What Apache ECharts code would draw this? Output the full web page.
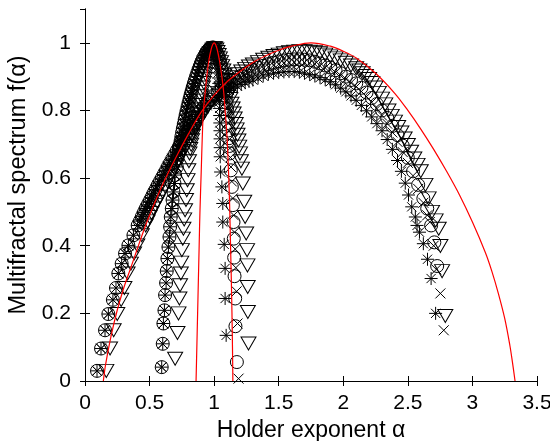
<!DOCTYPE html>
<html>
<head>
<meta charset="utf-8">
<script src="https://cdn.jsdelivr.net/npm/echarts@6.0.0/dist/echarts.min.js"></script>
<style>
  html, body { margin: 0; padding: 0; background: #fff; }
  #chart { width: 550px; height: 441px; }
</style>
</head>
<body>
<div id="chart"></div>
<script>
// Axis ranges: [min, max, step]
const xRange = [0, 3.5, 0.5];
const yRange = [0, 1.1, 0.2];

// Narrow spectra: left branch shared by the o, * and x estimates
const narrowLeft = [[0.594,0.041],[0.602,0.110],[0.607,0.170],[0.615,0.209],[0.620,0.254],[0.628,0.290],[0.633,0.325],[0.638,0.362],[0.646,0.396],[0.654,0.426],[0.659,0.456],[0.664,0.485],[0.672,0.510],[0.678,0.535],[0.685,0.559],[0.693,0.584],[0.698,0.609],[0.711,0.633],[0.716,0.658],[0.722,0.670],[0.728,0.683],[0.734,0.696],[0.740,0.709],[0.746,0.722],[0.752,0.735],[0.758,0.747],[0.765,0.760],[0.772,0.773],[0.779,0.786],[0.786,0.798],[0.794,0.811],[0.802,0.823],[0.810,0.835],[0.818,0.847],[0.826,0.858],[0.834,0.869],[0.843,0.880],[0.852,0.891],[0.861,0.901],[0.870,0.911],[0.879,0.921],[0.888,0.930],[0.897,0.939],[0.906,0.947],[0.915,0.955],[0.925,0.962],[0.935,0.969],[0.945,0.975],[0.955,0.979],[0.965,0.983],[0.975,0.985],[0.985,0.986]];
const narrowCircleRight = [[0.995,0.986],[1.003,0.983],[1.011,0.979],[1.019,0.973],[1.027,0.966],[1.035,0.958],[1.043,0.949],[1.050,0.939],[1.057,0.928],[1.064,0.916],[1.070,0.903],[1.076,0.889],[1.082,0.874],[1.087,0.858],[1.092,0.841],[1.096,0.823],[1.100,0.804],[1.104,0.784],[1.108,0.763],[1.112,0.741],[1.116,0.718],[1.119,0.695],[1.122,0.673],[1.129,0.623],[1.137,0.574],[1.145,0.520],[1.150,0.470],[1.152,0.421],[1.155,0.365],[1.158,0.310],[1.163,0.244],[1.165,0.162],[1.176,0.056]];
const narrowStarRight = [[0.992,0.986],[0.998,0.982],[1.004,0.977],[1.010,0.970],[1.015,0.961],[1.020,0.950],[1.024,0.938],[1.028,0.925],[1.031,0.911],[1.034,0.896],[1.036,0.880],[1.038,0.863],[1.040,0.845],[1.041,0.826],[1.042,0.806],[1.043,0.785],[1.044,0.763],[1.045,0.740],[1.046,0.716],[1.047,0.690],[1.047,0.663],[1.050,0.618],[1.060,0.574],[1.067,0.525],[1.067,0.470],[1.078,0.404],[1.085,0.333],[1.085,0.244],[1.093,0.135]];
const narrowCrossRight = [[0.997,0.986],[1.006,0.982],[1.015,0.977],[1.024,0.970],[1.033,0.962],[1.042,0.952],[1.050,0.941],[1.058,0.928],[1.065,0.914],[1.072,0.899],[1.078,0.883],[1.084,0.866],[1.090,0.848],[1.095,0.829],[1.100,0.808],[1.105,0.786],[1.110,0.763],[1.114,0.739],[1.118,0.714],[1.122,0.688],[1.126,0.661],[1.130,0.633],[1.137,0.590],[1.145,0.540],[1.152,0.490],[1.158,0.440],[1.163,0.390],[1.168,0.335],[1.174,0.265],[1.181,0.170],[1.189,0.007]];
const narrowTriangle = [[0.698,0.066],[0.716,0.142],[0.724,0.200],[0.731,0.244],[0.736,0.283],[0.742,0.318],[0.745,0.350],[0.750,0.387],[0.757,0.421],[0.762,0.450],[0.768,0.478],[0.775,0.505],[0.782,0.535],[0.788,0.564],[0.794,0.594],[0.800,0.623],[0.805,0.650],[0.809,0.673],[0.815,0.686],[0.822,0.699],[0.829,0.712],[0.836,0.725],[0.843,0.738],[0.850,0.751],[0.857,0.764],[0.864,0.777],[0.871,0.790],[0.878,0.803],[0.885,0.816],[0.892,0.829],[0.899,0.842],[0.906,0.855],[0.913,0.868],[0.920,0.881],[0.927,0.894],[0.934,0.907],[0.941,0.920],[0.949,0.933],[0.957,0.945],[0.965,0.956],[0.973,0.966],[0.981,0.974],[0.990,0.980],[0.999,0.984],[1.008,0.984],[1.017,0.980],[1.026,0.973],[1.035,0.964],[1.044,0.954],[1.053,0.943],[1.062,0.931],[1.071,0.918],[1.080,0.904],[1.089,0.890],[1.098,0.876],[1.107,0.862],[1.116,0.848],[1.125,0.834],[1.134,0.820],[1.143,0.806],[1.151,0.791],[1.159,0.776],[1.167,0.760],[1.174,0.744],[1.181,0.728],[1.188,0.711],[1.194,0.693],[1.200,0.673],[1.207,0.650],[1.215,0.628],[1.222,0.584],[1.233,0.530],[1.240,0.485],[1.248,0.436],[1.255,0.387],[1.258,0.342],[1.260,0.278],[1.261,0.204],[1.266,0.111]];

// Wide spectra: left branch shared by the o, * and x estimates
const wideLeft = [[0.093,0.030],[0.124,0.096],[0.155,0.150],[0.181,0.198],[0.216,0.240],[0.240,0.275],[0.258,0.318],[0.284,0.347],[0.310,0.377],[0.336,0.401],[0.375,0.431],[0.408,0.460],[0.425,0.473],[0.440,0.486],[0.455,0.498],[0.470,0.510],[0.485,0.521],[0.500,0.532],[0.515,0.543],[0.530,0.555],[0.546,0.566],[0.562,0.578],[0.578,0.589],[0.594,0.600],[0.610,0.611],[0.626,0.622],[0.642,0.634],[0.658,0.645],[0.675,0.657],[0.692,0.668],[0.709,0.680],[0.726,0.692],[0.744,0.704],[0.762,0.716],[0.780,0.728],[0.798,0.740],[0.817,0.752],[0.836,0.764],[0.855,0.776],[0.875,0.788]];
const wideCircleRest = [[0.895,0.800],[0.920,0.811],[0.945,0.822],[0.970,0.832],[1.000,0.845],[1.030,0.856],[1.060,0.866],[1.090,0.875],[1.120,0.883],[1.150,0.890],[1.180,0.897],[1.210,0.903],[1.240,0.909],[1.270,0.915],[1.300,0.920],[1.340,0.926],[1.380,0.932],[1.420,0.937],[1.460,0.941],[1.500,0.945],[1.540,0.948],[1.580,0.950],[1.620,0.951],[1.660,0.951],[1.700,0.950],[1.740,0.948],[1.780,0.944],[1.820,0.939],[1.860,0.933],[1.900,0.927],[1.940,0.919],[1.980,0.910],[2.020,0.900],[2.060,0.890],[2.100,0.880],[2.140,0.867],[2.180,0.853],[2.220,0.837],[2.260,0.819],[2.300,0.800],[2.340,0.778],[2.380,0.754],[2.420,0.727],[2.460,0.696],[2.500,0.660],[2.540,0.620],[2.580,0.580],[2.620,0.540],[2.650,0.510],[2.680,0.460],[2.705,0.410],[2.727,0.340]];
const wideStarRest = [[0.895,0.797],[0.920,0.806],[0.945,0.814],[0.970,0.822],[1.000,0.830],[1.030,0.838],[1.060,0.846],[1.090,0.853],[1.120,0.859],[1.150,0.866],[1.180,0.872],[1.210,0.877],[1.240,0.882],[1.270,0.886],[1.300,0.890],[1.340,0.896],[1.380,0.902],[1.420,0.907],[1.460,0.910],[1.500,0.912],[1.540,0.914],[1.580,0.915],[1.620,0.915],[1.660,0.913],[1.700,0.910],[1.740,0.906],[1.780,0.902],[1.820,0.897],[1.860,0.891],[1.900,0.885],[1.940,0.876],[1.980,0.866],[2.020,0.855],[2.060,0.843],[2.100,0.830],[2.140,0.815],[2.180,0.799],[2.220,0.781],[2.260,0.761],[2.300,0.740],[2.340,0.714],[2.380,0.685],[2.420,0.652],[2.450,0.620],[2.480,0.585],[2.505,0.550],[2.530,0.515],[2.558,0.485],[2.571,0.460],[2.590,0.440],[2.620,0.406],[2.652,0.360],[2.680,0.303],[2.715,0.200]];
const wideCrossRest = [[0.895,0.800],[0.920,0.810],[0.945,0.820],[0.970,0.829],[1.000,0.840],[1.030,0.850],[1.060,0.859],[1.090,0.868],[1.120,0.875],[1.150,0.882],[1.180,0.889],[1.210,0.896],[1.240,0.902],[1.270,0.907],[1.300,0.912],[1.340,0.918],[1.380,0.924],[1.420,0.929],[1.460,0.934],[1.500,0.937],[1.540,0.940],[1.580,0.942],[1.620,0.943],[1.660,0.943],[1.700,0.942],[1.740,0.940],[1.780,0.937],[1.820,0.932],[1.860,0.926],[1.900,0.920],[1.940,0.912],[1.980,0.903],[2.020,0.893],[2.060,0.882],[2.100,0.870],[2.140,0.856],[2.180,0.841],[2.220,0.824],[2.260,0.805],[2.300,0.785],[2.340,0.761],[2.380,0.735],[2.420,0.707],[2.460,0.677],[2.500,0.645],[2.540,0.607],[2.580,0.568],[2.620,0.527],[2.650,0.490],[2.670,0.470],[2.700,0.400],[2.720,0.330],[2.752,0.259],[2.778,0.150]];
const wideTriangle = [[0.165,0.030],[0.194,0.096],[0.222,0.150],[0.250,0.198],[0.280,0.240],[0.305,0.275],[0.330,0.318],[0.355,0.347],[0.380,0.377],[0.405,0.401],[0.440,0.431],[0.470,0.460],[0.485,0.472],[0.500,0.485],[0.515,0.497],[0.530,0.510],[0.545,0.520],[0.560,0.530],[0.580,0.545],[0.600,0.560],[0.620,0.575],[0.640,0.590],[0.660,0.605],[0.680,0.620],[0.700,0.635],[0.720,0.650],[0.740,0.665],[0.760,0.680],[0.780,0.695],[0.800,0.710],[0.825,0.728],[0.850,0.745],[0.875,0.763],[0.900,0.780],[0.925,0.795],[0.950,0.810],[0.975,0.824],[1.000,0.838],[1.030,0.852],[1.060,0.865],[1.090,0.877],[1.120,0.888],[1.150,0.898],[1.180,0.907],[1.210,0.915],[1.240,0.923],[1.270,0.930],[1.300,0.936],[1.340,0.943],[1.380,0.950],[1.420,0.956],[1.460,0.961],[1.500,0.965],[1.540,0.969],[1.580,0.972],[1.620,0.974],[1.660,0.975],[1.700,0.975],[1.740,0.974],[1.780,0.972],[1.820,0.969],[1.860,0.965],[1.900,0.960],[1.940,0.954],[1.980,0.948],[2.020,0.941],[2.060,0.933],[2.100,0.925],[2.125,0.918],[2.150,0.910],[2.175,0.902],[2.200,0.893],[2.225,0.881],[2.250,0.868],[2.275,0.852],[2.300,0.835],[2.325,0.818],[2.350,0.800],[2.375,0.784],[2.400,0.767],[2.425,0.751],[2.450,0.735],[2.475,0.717],[2.500,0.698],[2.525,0.678],[2.550,0.658],[2.575,0.639],[2.600,0.620],[2.636,0.580],[2.661,0.540],[2.687,0.500],[2.715,0.475],[2.739,0.450],[2.752,0.399],[2.765,0.325],[2.790,0.192]];

// Theoretical spectra (red)
const narrowTheory = [[0.860,0],[0.866,0.100],[0.872,0.200],[0.878,0.300],[0.884,0.400],[0.890,0.500],[0.900,0.620],[0.908,0.720],[0.917,0.800],[0.930,0.850],[0.943,0.900],[0.960,0.950],[0.975,0.978],[0.988,0.994],[1.000,1.000],[1.012,0.994],[1.025,0.978],[1.040,0.950],[1.060,0.900],[1.075,0.850],[1.085,0.800],[1.100,0.720],[1.110,0.633],[1.120,0.520],[1.127,0.400],[1.133,0.300],[1.138,0.200],[1.142,0.100],[1.145,0]];
const wideTheory = [[0.142,0],[0.160,0.050],[0.200,0.130],[0.250,0.210],[0.300,0.275],[0.350,0.330],[0.400,0.385],[0.450,0.440],[0.500,0.490],[0.600,0.580],[0.700,0.658],[0.800,0.730],[0.900,0.795],[1.000,0.845],[1.100,0.885],[1.200,0.915],[1.300,0.942],[1.400,0.962],[1.500,0.978],[1.600,0.990],[1.750,1.000],[1.900,0.990],[2.000,0.975],[2.100,0.955],[2.250,0.910],[2.400,0.850],[2.500,0.800],[2.600,0.745],[2.700,0.685],[2.800,0.620],[2.900,0.550],[3.000,0.470],[3.100,0.380],[3.150,0.325],[3.200,0.260],[3.250,0.185],[3.290,0.105],[3.310,0.055],[3.330,0]];

// Marker outlines
const STAR = 'path://M0,-10L0,10M-10,0L10,0M-7.07,-7.07L7.07,7.07M-7.07,7.07L7.07,-7.07';
const CROSS = 'path://M-10,-10L10,10M-10,10L10,-10';
const TRI_DOWN = 'path://M-10,-8.66L10,-8.66L0,8.66Z';

const FONT = 'Liberation Sans, Arial, Helvetica, sans-serif';

function markers(data, symbol, size) {
  return {
    type: 'scatter',
    data: data,
    symbol: symbol,
    symbolSize: size,
    silent: true,
    z: 2,
    itemStyle: { color: 'rgba(0,0,0,0)', borderColor: '#000', borderWidth: 1, opacity: 1 }
  };
}

function theory(data) {
  return {
    type: 'line',
    data: data,
    showSymbol: false,
    smooth: 0.35,
    silent: true,
    z: 5,
    lineStyle: { color: '#ff0000', width: 1.2 }
  };
}

const axisStyle = { lineStyle: { color: '#000', width: 1 } };
const tickStyle = { inside: true, length: 5, lineStyle: { color: '#000', width: 1 } };

const chart = echarts.init(document.getElementById('chart'), null, { renderer: 'canvas' });
chart.setOption({
  animation: false,
  backgroundColor: '#fff',
  grid: { left: 85, right: 13, top: 9, bottom: 60, containLabel: false, outerBoundsMode: 'none' },
  xAxis: [
    {
      type: 'value', min: xRange[0], max: xRange[1], interval: xRange[2], position: 'bottom',
      axisLine: axisStyle, axisTick: tickStyle, splitLine: { show: false },
      axisLabel: { color: '#000', fontSize: 21, fontFamily: FONT, margin: 12 },
      name: 'Holder exponent α', nameLocation: 'middle', nameGap: 30,
      nameTextStyle: { color: '#000', fontSize: 23, fontFamily: FONT }
    },
    {
      type: 'value', min: xRange[0], max: xRange[1], interval: xRange[2], position: 'top',
      axisLine: axisStyle, axisTick: tickStyle, splitLine: { show: false },
      axisLabel: { show: false }
    }
  ],
  yAxis: [
    {
      type: 'value', min: yRange[0], max: yRange[1], interval: yRange[2], position: 'left',
      axisLine: axisStyle, axisTick: tickStyle, splitLine: { show: false },
      axisLabel: { color: '#000', fontSize: 21, fontFamily: FONT, margin: 14, showMaxLabel: false },
      name: 'Multifractal spectrum f(α)', nameLocation: 'middle', nameGap: 41,
      nameTextStyle: { color: '#000', fontSize: 23.5, fontFamily: FONT, padding: [0, 0, 0, 20] }
    },
    {
      type: 'value', min: yRange[0], max: yRange[1], interval: yRange[2], position: 'right',
      axisLine: axisStyle, axisTick: tickStyle, splitLine: { show: false },
      axisLabel: { show: false }
    }
  ],
  series: [
    markers(narrowLeft, 'circle', 13),
    markers(narrowLeft, STAR, 13),
    markers(narrowLeft, CROSS, 10),
    markers(narrowCircleRight, 'circle', 13),
    markers(narrowStarRight, STAR, 13),
    markers(narrowCrossRight, CROSS, 10),
    markers(narrowTriangle, TRI_DOWN, [15, 13]),
    markers(wideLeft, 'circle', 13),
    markers(wideLeft, STAR, 13),
    markers(wideLeft, CROSS, 10),
    markers(wideCircleRest, 'circle', 13),
    markers(wideStarRest, STAR, 13),
    markers(wideCrossRest, CROSS, 10),
    markers(wideTriangle, TRI_DOWN, [15, 13]),
    theory(narrowTheory),
    theory(wideTheory)
  ]
});
</script>
</body>
</html>
